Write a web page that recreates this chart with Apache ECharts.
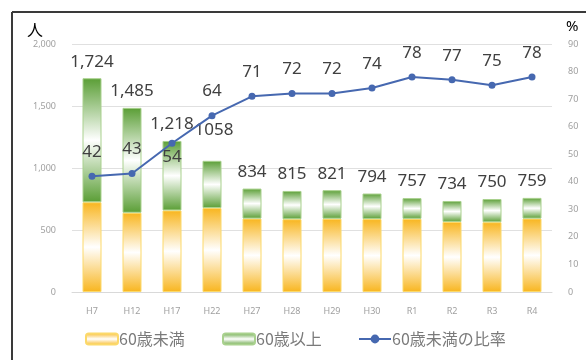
<!DOCTYPE html>
<html>
<head>
<meta charset="utf-8">
<script src="https://cdn.jsdelivr.net/npm/echarts@6/dist/echarts.min.js"></script>
<style>
  html, body { margin: 0; padding: 0; background: #fff; }
  #chart { width: 586px; height: 360px; }
</style>
</head>
<body>
<div id="chart"></div>
<script>
// Fiscal years
const years = ['H7', 'H12', 'H17', 'H22', 'H27', 'H28', 'H29', 'H30', 'R1', 'R2', 'R3', 'R4'];
// Members under 60 (persons)
const under60 = [724, 639, 658, 677, 592, 587, 591, 588, 590, 565, 563, 592];
// Members 60 and over (persons)
const over60 = [1000, 846, 560, 381, 242, 228, 230, 206, 167, 169, 187, 167];
// Share of members under 60 (%)
const ratioUnder60 = [42, 43, 54, 64, 71, 72, 72, 74, 78, 77, 75, 78];
// Total labels as printed above each bar
const totalText = ['1,724', '1,485', '1,218', '1058', '834', '815', '821', '794', '757', '734', '750', '759'];

const labelFont = 'Noto Sans, Liberation Sans, sans-serif';
const cjkFont = 'Noto Sans CJK JP, Noto Sans, sans-serif';

function vGrad(edge) {
  return new echarts.graphic.LinearGradient(0, 0, 0, 1, [
    { offset: 0, color: edge },
    { offset: 0.5, color: '#ffffff' },
    { offset: 1, color: edge }
  ]);
}

const chart = echarts.init(document.getElementById('chart'), null, { renderer: 'canvas' });

const overData = over60.map((v, i) => {
  const item = { value: v };
  if (years[i] === 'H22') item.label = { offset: [2, -14] };
  return item;
});
const ratioData = ratioUnder60.map((v, i) => {
  const item = { value: v };
  if (years[i] === 'H17') item.label = { position: 'bottom', distance: 2 };
  return item;
});

// One legend block per series, each placed on its own
function legendAt(left, name) {
  return {
    left: left, top: 331, padding: 0,
    itemWidth: 32, itemHeight: 11,
    textStyle: { fontSize: 16, color: '#7a7a7a', fontFamily: cjkFont, padding: [0, 0, 0, -4] },
    data: [name]
  };
}

chart.setOption({
  animation: false,
  backgroundColor: '#ffffff',
  grid: { left: 72, right: 34, top: 44, bottom: 68, containLabel: false },
  legend: [
    legendAt(85, '60歳未満'),
    legendAt(222, '60歳以上'),
    legendAt(358, '60歳未満の比率')
  ],
  xAxis: {
    type: 'category',
    data: years,
    axisLine: { lineStyle: { color: '#d9d9d9' } },
    axisTick: { show: false },
    axisLabel: { color: '#a0a0a0', fontSize: 9, margin: 15, fontFamily: labelFont }
  },
  yAxis: [
    {
      type: 'value', min: 0, max: 2000, interval: 500,
      axisLine: { show: false }, axisTick: { show: false },
      splitLine: { lineStyle: { color: '#e0e0e0' } },
      axisLabel: {
        color: '#a0a0a0', fontSize: 9, margin: 16, fontFamily: labelFont,
        formatter: v => v.toLocaleString('en-US')
      }
    },
    {
      type: 'value', min: 0, max: 90, interval: 10,
      axisLine: { show: false }, axisTick: { show: false },
      splitLine: { show: false },
      axisLabel: { color: '#a0a0a0', fontSize: 9, margin: 16, fontFamily: labelFont }
    }
  ],
  series: [
    {
      name: '60歳未満', type: 'bar', stack: 'members', barWidth: 19,
      data: under60,
      itemStyle: { color: vGrad('#f8b51e'), borderColor: '#fcd96a', borderWidth: 1 }
    },
    {
      name: '60歳以上', type: 'bar', stack: 'members', barWidth: 19,
      data: overData,
      itemStyle: { color: vGrad('#5a9e35'), borderColor: '#a9d18e', borderWidth: 1 },
      label: {
        show: true, position: 'top', distance: 8,
        color: '#404040', fontSize: 17, fontFamily: labelFont,
        formatter: p => totalText[p.dataIndex]
      }
    },
    {
      name: '60歳未満の比率', type: 'line', yAxisIndex: 1,
      data: ratioData,
      symbol: 'circle', symbolSize: 7,
      lineStyle: { color: '#4668b0', width: 2 },
      itemStyle: { color: '#4668b0' },
      label: {
        show: true, position: 'top', distance: 12,
        color: '#404040', fontSize: 17, fontFamily: labelFont
      },
      z: 5
    }
  ],
  graphic: [
    { type: 'line', shape: { x1: 12, y1: 12, x2: 586, y2: 12 }, style: { stroke: '#3a3a3a', lineWidth: 2 } },
    { type: 'line', shape: { x1: 12, y1: 12, x2: 12, y2: 360 }, style: { stroke: '#3a3a3a', lineWidth: 2 } },
    { type: 'text', left: 27, top: 22, style: { text: '人', fontSize: 16, fill: '#000', fontFamily: cjkFont } },
    { type: 'text', left: 566, top: 19, style: { text: '%', fontSize: 15, fill: '#000', fontFamily: labelFont } }
  ]
});
</script>
</body>
</html>
